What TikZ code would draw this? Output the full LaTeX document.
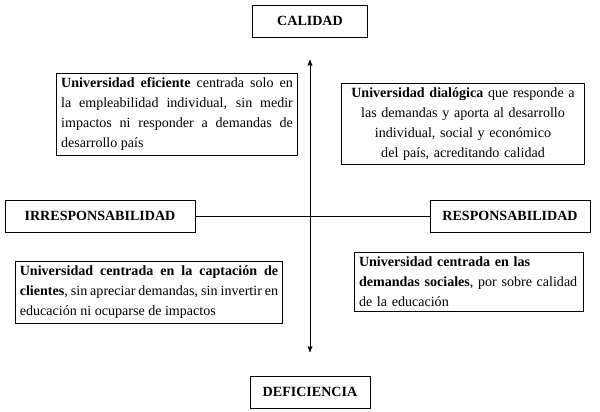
\documentclass[tikz,border=0pt]{standalone}
\usepackage{fontspec}
\setmainfont{Liberation Serif}
\usetikzlibrary{arrows}
\begin{document}
\hyphenpenalty=10000
\exhyphenpenalty=10000
\begin{tikzpicture}[x=0.03cm,y=-0.03cm,>=stealth',
  axis/.style={draw,thick,font=\bfseries\fontsize{12}{14}\selectfont,inner sep=0pt,minimum height=0.96cm},
  quad/.style={draw,thick,align=justify,inner sep=4pt,font=\fontsize{12}{17}\selectfont}]
\useasboundingbox (0,0) rectangle (600,411);

\node[axis,minimum width=3.45cm] (cal) at (310,21) {CALIDAD};
\node[axis,minimum width=3.6cm] (def) at (310,392) {DEFICIENCIA};
\node[axis,minimum width=5.7cm] (irr) at (100,216) {IRRESPONSABILIDAD};
\node[axis,minimum width=4.8cm] (res) at (510,216) {RESPONSABILIDAD};

\coordinate (top) at (310,60);
\coordinate (bot) at (310,352);
\draw[<->,thick] (top) -- (bot);
\draw[thick] (irr.east) -- (res.west);

\node[quad,text width=6.95cm] (ql) at (177,114)
  {\textbf{Universidad eficiente} centrada solo en la empleabilidad individual, sin medir impactos ni responder a demandas de desarrollo país};
\node[quad,text width=7.0cm,align=center] (qr) at (463,124)
  {\textbf{Universidad dialógica} que responde a las demandas y aporta al desarrollo individual, social y económico del país, acreditando calidad};
\node[quad,text width=7.75cm] (bl) at (149,292)
  {\textbf{Universidad centrada en la captación de clientes}, sin apreciar demandas, sin invertir en educación ni ocuparse de impactos};
\node[quad,text width=6.6cm,align=left] (br) at (469,282)
  {\textbf{Universidad centrada en las demandas sociales}, por sobre calidad de la educación};
\end{tikzpicture}
\end{document}
